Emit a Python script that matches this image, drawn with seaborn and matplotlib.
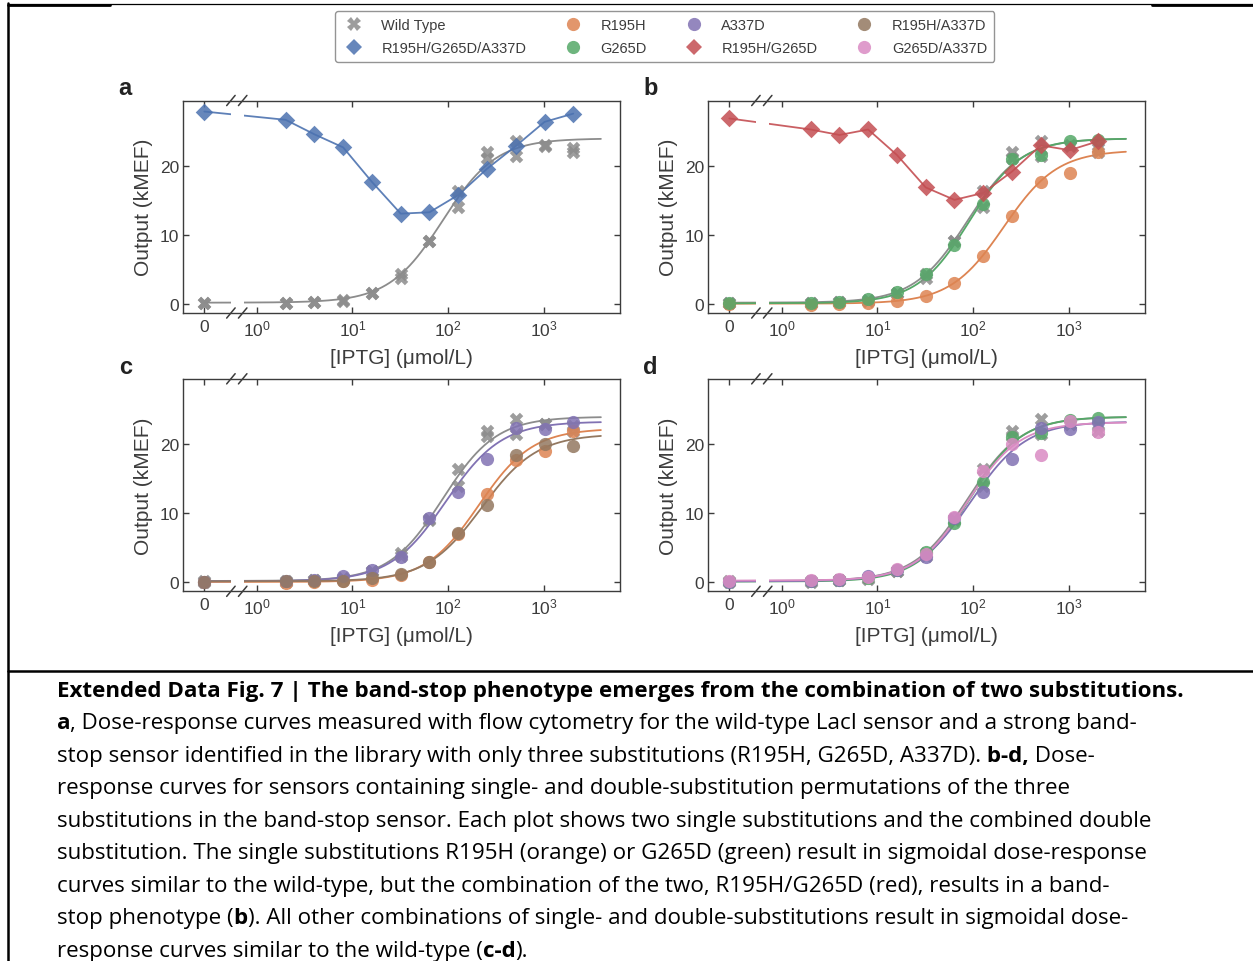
import numpy as np
import pandas as pd
import matplotlib
matplotlib.use('Agg')
import matplotlib.pyplot as plt
import seaborn as sns
from matplotlib.lines import Line2D
from matplotlib.ticker import NullLocator

# IPTG doses (umol/L)
iptg = [0, 2, 4, 8, 16, 32, 64, 128, 256, 512, 1024, 2048]

# measured outputs (kMEF)
wild_type_rep1 = [0.2, 0.2, 0.3, 0.6, 1.6, 4.3, 9.2, 16.4, 22.0, 23.7, 23.0, 22.6]
wild_type_rep2 = [0.1, 0.1, 0.3, 0.5, 1.6, 3.8, 9.1, 14.0, 21.2, 21.5, 22.9, 22.0]
r195h = [0.0, -0.1, 0.0, 0.2, 0.4, 1.1, 3.0, 7.0, 12.8, 17.7, 19.0, 22.0]
g265d = [0.1, 0.2, 0.3, 0.7, 1.8, 4.4, 8.6, 14.5, 21.0, 21.6, 23.6, 23.8]
a337d = [0.1, 0.2, 0.3, 0.9, 1.8, 3.7, 9.3, 13.1, 17.9, 22.3, 22.2, 23.3]
r195h_g265d = [26.9, 25.3, 24.5, 25.3, 21.6, 16.9, 15.1, 16.1, 19.2, 23.0, 22.3, 23.6]
r195h_a337d = [0.1, 0.2, 0.2, 0.2, 0.6, 1.2, 3.0, 7.2, 11.2, 18.4, 20.0, 19.8]
g265d_a337d = [0.2, 0.3, 0.5, 0.8, 1.9, 4.1, 9.4, 16.1, 20.1, 18.5, 23.4, 21.8]
triple = [27.9, 26.7, 24.6, 22.7, 17.7, 13.1, 13.3, 15.8, 19.6, 22.9, 26.4, 27.6]

# Hill fits: baseline, top, EC50, hill n
fit_wt = (0.2, 24.0, 88, 1.55)
fit_r195h = (0.05, 22.3, 210, 1.55)
fit_g265d = (0.1, 24.0, 92, 1.6)
fit_a337d = (0.15, 23.3, 95, 1.5)
fit_r195h_a337d = (0.15, 21.5, 225, 1.5)
fit_g265d_a337d = (0.25, 23.2, 88, 1.6)

W, H = 1253, 962
sns.set_theme(style='ticks')
plt.rcParams['font.family'] = ['Liberation Sans', 'DejaVu Sans']
plt.rcParams['axes.edgecolor'] = '#3c3c3c'
plt.rcParams['axes.linewidth'] = 1.0

pal = sns.color_palette('deep')
c_blue, c_orange, c_green, c_red, c_purple, c_brown, c_pink, c_gray = [pal[i] for i in range(8)]

ZERO_POS = -0.55   # where the "0" dose sits on the broken log axis


def to_axis(x):
    x = np.asarray(x, dtype=float)
    safe = np.where(x > 0, x, 1.0)
    return np.where(x > 0, np.log10(safe), ZERO_POS)


def from_axis(y):
    return np.power(10.0, y)


def hill(params):
    base, top, ec50, n = params
    x = np.concatenate([[0.0], np.logspace(-0.5, 3.6, 300)])
    y = base + (top - base) * x ** n / (ec50 ** n + x ** n)
    return x, y


def fit_curve(ax, params, color):
    x, y = hill(params)
    sns.lineplot(x=x, y=y, color=color, lw=1.3, sort=False, estimator=None, ax=ax, zorder=2)


def points(ax, y, color, marker='o', s=90):
    sns.scatterplot(x=iptg, y=y, color=color, marker=marker, s=s, alpha=0.85,
                    linewidth=0, ax=ax, zorder=3, legend=False)


def wild_type(ax):
    fit_curve(ax, fit_wt, c_gray)
    points(ax, wild_type_rep1, c_gray, 'X', 95)
    points(ax, wild_type_rep2, c_gray, 'X', 95)


def connected(ax, y, color):
    sns.lineplot(x=iptg, y=y, color=color, lw=1.3, alpha=0.9, sort=False, estimator=None, ax=ax, zorder=2)
    points(ax, y, color, 'D', 80)


def setup(ax, letter):
    ax.set_xscale('function', functions=(to_axis, from_axis))
    ax.set_xlim(10 ** -0.77, 10 ** 3.8)
    ax.set_ylim(-1.3, 29.5)
    ax.set_xticks([0, 1, 10, 100, 1000])
    ax.set_xticklabels(['0', r'$\mathdefault{10^{0}}$', r'$\mathdefault{10^{1}}$',
                        r'$\mathdefault{10^{2}}$', r'$\mathdefault{10^{3}}$'])
    ax.xaxis.set_minor_locator(NullLocator())
    ax.set_yticks([0, 10, 20])
    ax.tick_params(direction='in', top=True, right=True, length=4, width=1,
                   labelsize=12.5, colors='#3c3c3c')
    ax.tick_params(axis='x', pad=4)
    ax.tick_params(axis='y', pad=3)
    ax.set_xlabel('[IPTG] (μmol/L)', fontsize=15, color='#3c3c3c', labelpad=7)
    ax.set_ylabel('Output (kMEF)', fontsize=15, color='#3c3c3c', labelpad=5)
    # axis break: white gap through the data lines and // marks on the spines
    ax.axvspan(10 ** -0.27, 10 ** -0.133, color='white', lw=0, zorder=2.4)
    for xc in (0.109, 0.136):
        for yb in (0.0, 1.0):
            ax.plot([xc - 0.0097, xc + 0.0097], [yb - 0.024, yb + 0.024], transform=ax.transAxes,
                    color='#3c3c3c', lw=1.1, clip_on=False, zorder=4)
    ax.text(-0.133, 1.06, letter, transform=ax.transAxes, fontsize=17, fontweight='bold',
            ha='center', va='center', color='#222222')


fig = plt.figure(figsize=(W / 100, H / 100), dpi=100)
ax_w, ax_h = 436.7 / W, 212.5 / H
ax_a = fig.add_axes([183.3 / W, 1 - 314 / H, ax_w, ax_h])
ax_b = fig.add_axes([708.3 / W, 1 - 314 / H, ax_w, ax_h])
ax_c = fig.add_axes([183.3 / W, 1 - 592.3 / H, ax_w, ax_h])
ax_d = fig.add_axes([708.3 / W, 1 - 592.3 / H, ax_w, ax_h])
for ax, letter in zip([ax_a, ax_b, ax_c, ax_d], 'abcd'):
    setup(ax, letter)

# a: wild type vs triple mutant
wild_type(ax_a)
connected(ax_a, triple, c_blue)

# b: R195H, G265D and R195H/G265D
wild_type(ax_b)
fit_curve(ax_b, fit_r195h, c_orange)
points(ax_b, r195h, c_orange)
fit_curve(ax_b, fit_g265d, c_green)
points(ax_b, g265d, c_green)
connected(ax_b, r195h_g265d, c_red)

# c: R195H, A337D and R195H/A337D
wild_type(ax_c)
fit_curve(ax_c, fit_r195h, c_orange)
points(ax_c, r195h, c_orange)
fit_curve(ax_c, fit_a337d, c_purple)
points(ax_c, a337d, c_purple)
fit_curve(ax_c, fit_r195h_a337d, c_brown)
points(ax_c, r195h_a337d, c_brown)

# d: G265D, A337D and G265D/A337D
wild_type(ax_d)
fit_curve(ax_d, fit_g265d, c_green)
points(ax_d, g265d, c_green)
fit_curve(ax_d, fit_a337d, c_purple)
points(ax_d, a337d, c_purple)
fit_curve(ax_d, fit_g265d_a337d, c_pink)
points(ax_d, g265d_a337d, c_pink)

for ax in [ax_a, ax_b, ax_c, ax_d]:
    ax.set_xlim(10 ** -0.77, 10 ** 3.8)
    ax.set_ylim(-1.3, 29.5)


def handle(marker, color, ms):
    return Line2D([], [], ls='', marker=marker, color=color, ms=ms, alpha=0.85, mew=0)


handles = [handle('X', c_gray, 9.5), handle('D', c_blue, 8.5),
           handle('o', c_orange, 9.5), handle('o', c_green, 9.5),
           handle('o', c_purple, 9.5), handle('D', c_red, 8.5),
           handle('o', c_brown, 9.5), handle('o', c_pink, 9.5)]
labels = ['Wild Type', 'R195H/G265D/A337D', 'R195H', 'G265D', 'A337D', 'R195H/G265D',
          'R195H/A337D', 'G265D/A337D']
leg = fig.legend(handles, labels, ncol=4, loc='upper center', bbox_to_anchor=(664.5 / W, 1 - 12 / H),
                 fontsize=10.5, frameon=True, fancybox=True, edgecolor='#7a7a7a',
                 handlelength=1.6, handletextpad=1.1, columnspacing=2.4, labelspacing=0.6,
                 borderpad=0.5, borderaxespad=0)
leg.get_frame().set_linewidth(1.0)
for t in leg.get_texts():
    t.set_color('#3c3c3c')

# overlay in pixel units for the page frame and the caption
ov = fig.add_axes([0, 0, 1, 1])
ov.set_xlim(0, W)
ov.set_ylim(H, 0)
ov.axis('off')
ov.plot([8, W], [4.5, 4.5], color='black', lw=0.9)
ov.plot([8, 110], [5.5, 5.5], color='black', lw=2)
ov.plot([1152, W], [5.5, 5.5], color='black', lw=2)
ov.plot([8, 8], [4, H], color='black', lw=1.8)
ov.plot([8, W], [672, 672], color='black', lw=1.8)

CAP_FONT = ['Open Sans', 'DejaVu Sans']
CAP_SIZE = 16.1
caption = [
    [('Extended Data Fig. 7 | The band-stop phenotype emerges from the combination of two substitutions.', True)],
    [('a', True), (', Dose-response curves measured with flow cytometry for the wild-type LacI sensor and a strong band-', False)],
    [('stop sensor identified in the library with only three substitutions (R195H, G265D, A337D).', False),
     (' b-d,', True), (' Dose-', False)],
    [('response curves for sensors containing single- and double-substitution permutations of the three', False)],
    [('substitutions in the band-stop sensor. Each plot shows two single substitutions and the combined double', False)],
    [('substitution. The single substitutions R195H (orange) or G265D (green) result in sigmoidal dose-response', False)],
    [('curves similar to the wild-type, but the combination of the two, R195H/G265D (red), results in a band-', False)],
    [('stop phenotype (', False), ('b', True),
     ('). All other combinations of single- and double-substitutions result in sigmoidal dose-', False)],
    [('response curves similar to the wild-type (', False), ('c-d', True), (').', False)],
]
for i, parts in enumerate(caption):
    y = 702 + 32.5 * i
    prev = None
    for txt, bold in parts:
        kw = dict(fontsize=CAP_SIZE, family=CAP_FONT, fontweight='bold' if bold else 'normal',
                  color='black', ha='left', va='bottom')
        if prev is None:
            prev = ov.text(57, y, txt, **kw)
        else:
            prev = ov.annotate(txt, xy=(1, 0), xycoords=prev, **kw)

fig.savefig('out.png', dpi=100)
